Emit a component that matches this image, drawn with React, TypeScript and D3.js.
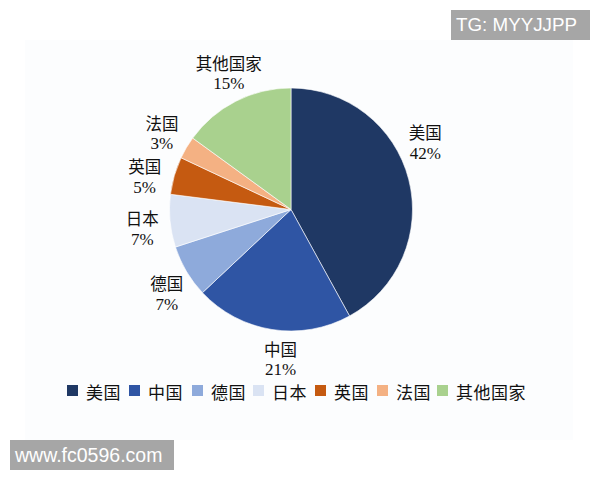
import React from "react";
import * as d3 from "d3";

const categories = ["美国", "中国", "德国", "日本", "英国", "法国", "其他国家"];
const shares = [42, 21, 7, 7, 5, 3, 15];
const colors = ["#1f3864", "#2f55a4", "#8eaadb", "#dae3f3", "#c55a11", "#f4b183", "#a9d18e"];
// angular nudge (degrees) for the label of each slice, as placed in the source
const labelNudge = [-12, -5, -3.5, -2, -3.5, 0, 2.5];

const W = 600;
const H = 480;
const cx = 291;
const cy = 209.5;
const R = 121.5;
const labelR = 150;

const cjk = "'Noto Sans CJK SC', 'Noto Sans', sans-serif";
const serif = "'Liberation Serif', 'DejaVu Serif', serif";

export default function App() {
  const pie = d3.pie<number>().sort(null).value((d) => d);
  const arcs = pie(shares);
  const arc = d3.arc<d3.PieArcDatum<number>>().innerRadius(0).outerRadius(R);

  // legend layout
  const legendY = 391;
  const legendX = d3
    .scaleOrdinal<string, number>()
    .domain(categories)
    .range([67, 129, 192, 253, 315, 377, 437]);

  return (
    <svg
      width={W}
      height={H}
      style={{ position: "absolute", left: 0, top: 0, background: "#ffffff" }}
    >
      <rect x={25} y={40} width={548} height={400} fill="#fcfdfe" />
      <g transform={`translate(${cx},${cy})`}>
        {arcs.map((a, i) => (
          <path key={i} d={arc(a) || ""} fill={colors[i]} stroke="#ffffff" strokeWidth={0.6} />
        ))}
        {arcs.map((a, i) => {
          const mid = (a.startAngle + a.endAngle) / 2 + (labelNudge[i] * Math.PI) / 180;
          const x = labelR * Math.sin(mid);
          const y = -labelR * Math.cos(mid);
          return (
            <g key={"l" + i} transform={`translate(${x},${y})`}>
              <text
                y={-10.5}
                textAnchor="middle"
                dominantBaseline="central"
                fontFamily={cjk}
                fontSize={16.5}
                fill="#111111"
              >
                {categories[i]}
              </text>
              <text
                y={10.5}
                textAnchor="middle"
                dominantBaseline="central"
                fontFamily={serif}
                fontSize={17}
                fill="#111111"
              >
                {shares[i] + "%"}
              </text>
            </g>
          );
        })}
      </g>
      <g>
        {categories.map((c, i) => (
          <g key={"lg" + i} transform={`translate(${legendX(c)},${legendY})`}>
            <rect x={0} y={-6} width={11} height={11} fill={colors[i]} />
            <text
              x={19}
              y={0}
              dominantBaseline="central"
              fontFamily={cjk}
              fontSize={17}
              letterSpacing={0.5}
              fill="#111111"
            >
              {c}
            </text>
          </g>
        ))}
      </g>
      <rect x={451} y={10} width={139} height={30} fill="#a6a6a6" />
      <text x={456} y={31} fontFamily="'Liberation Sans', Arial, sans-serif" fontSize={18.8} fill="#ffffff">
        TG: MYYJJPP
      </text>
      <rect x={10} y={440} width={164} height={30} fill="#a6a6a6" />
      <text x={15} y={462} fontFamily="'Liberation Sans', Arial, sans-serif" fontSize={19.5} fill="#ffffff">
        www.fc0596.com
      </text>
    </svg>
  );
}
